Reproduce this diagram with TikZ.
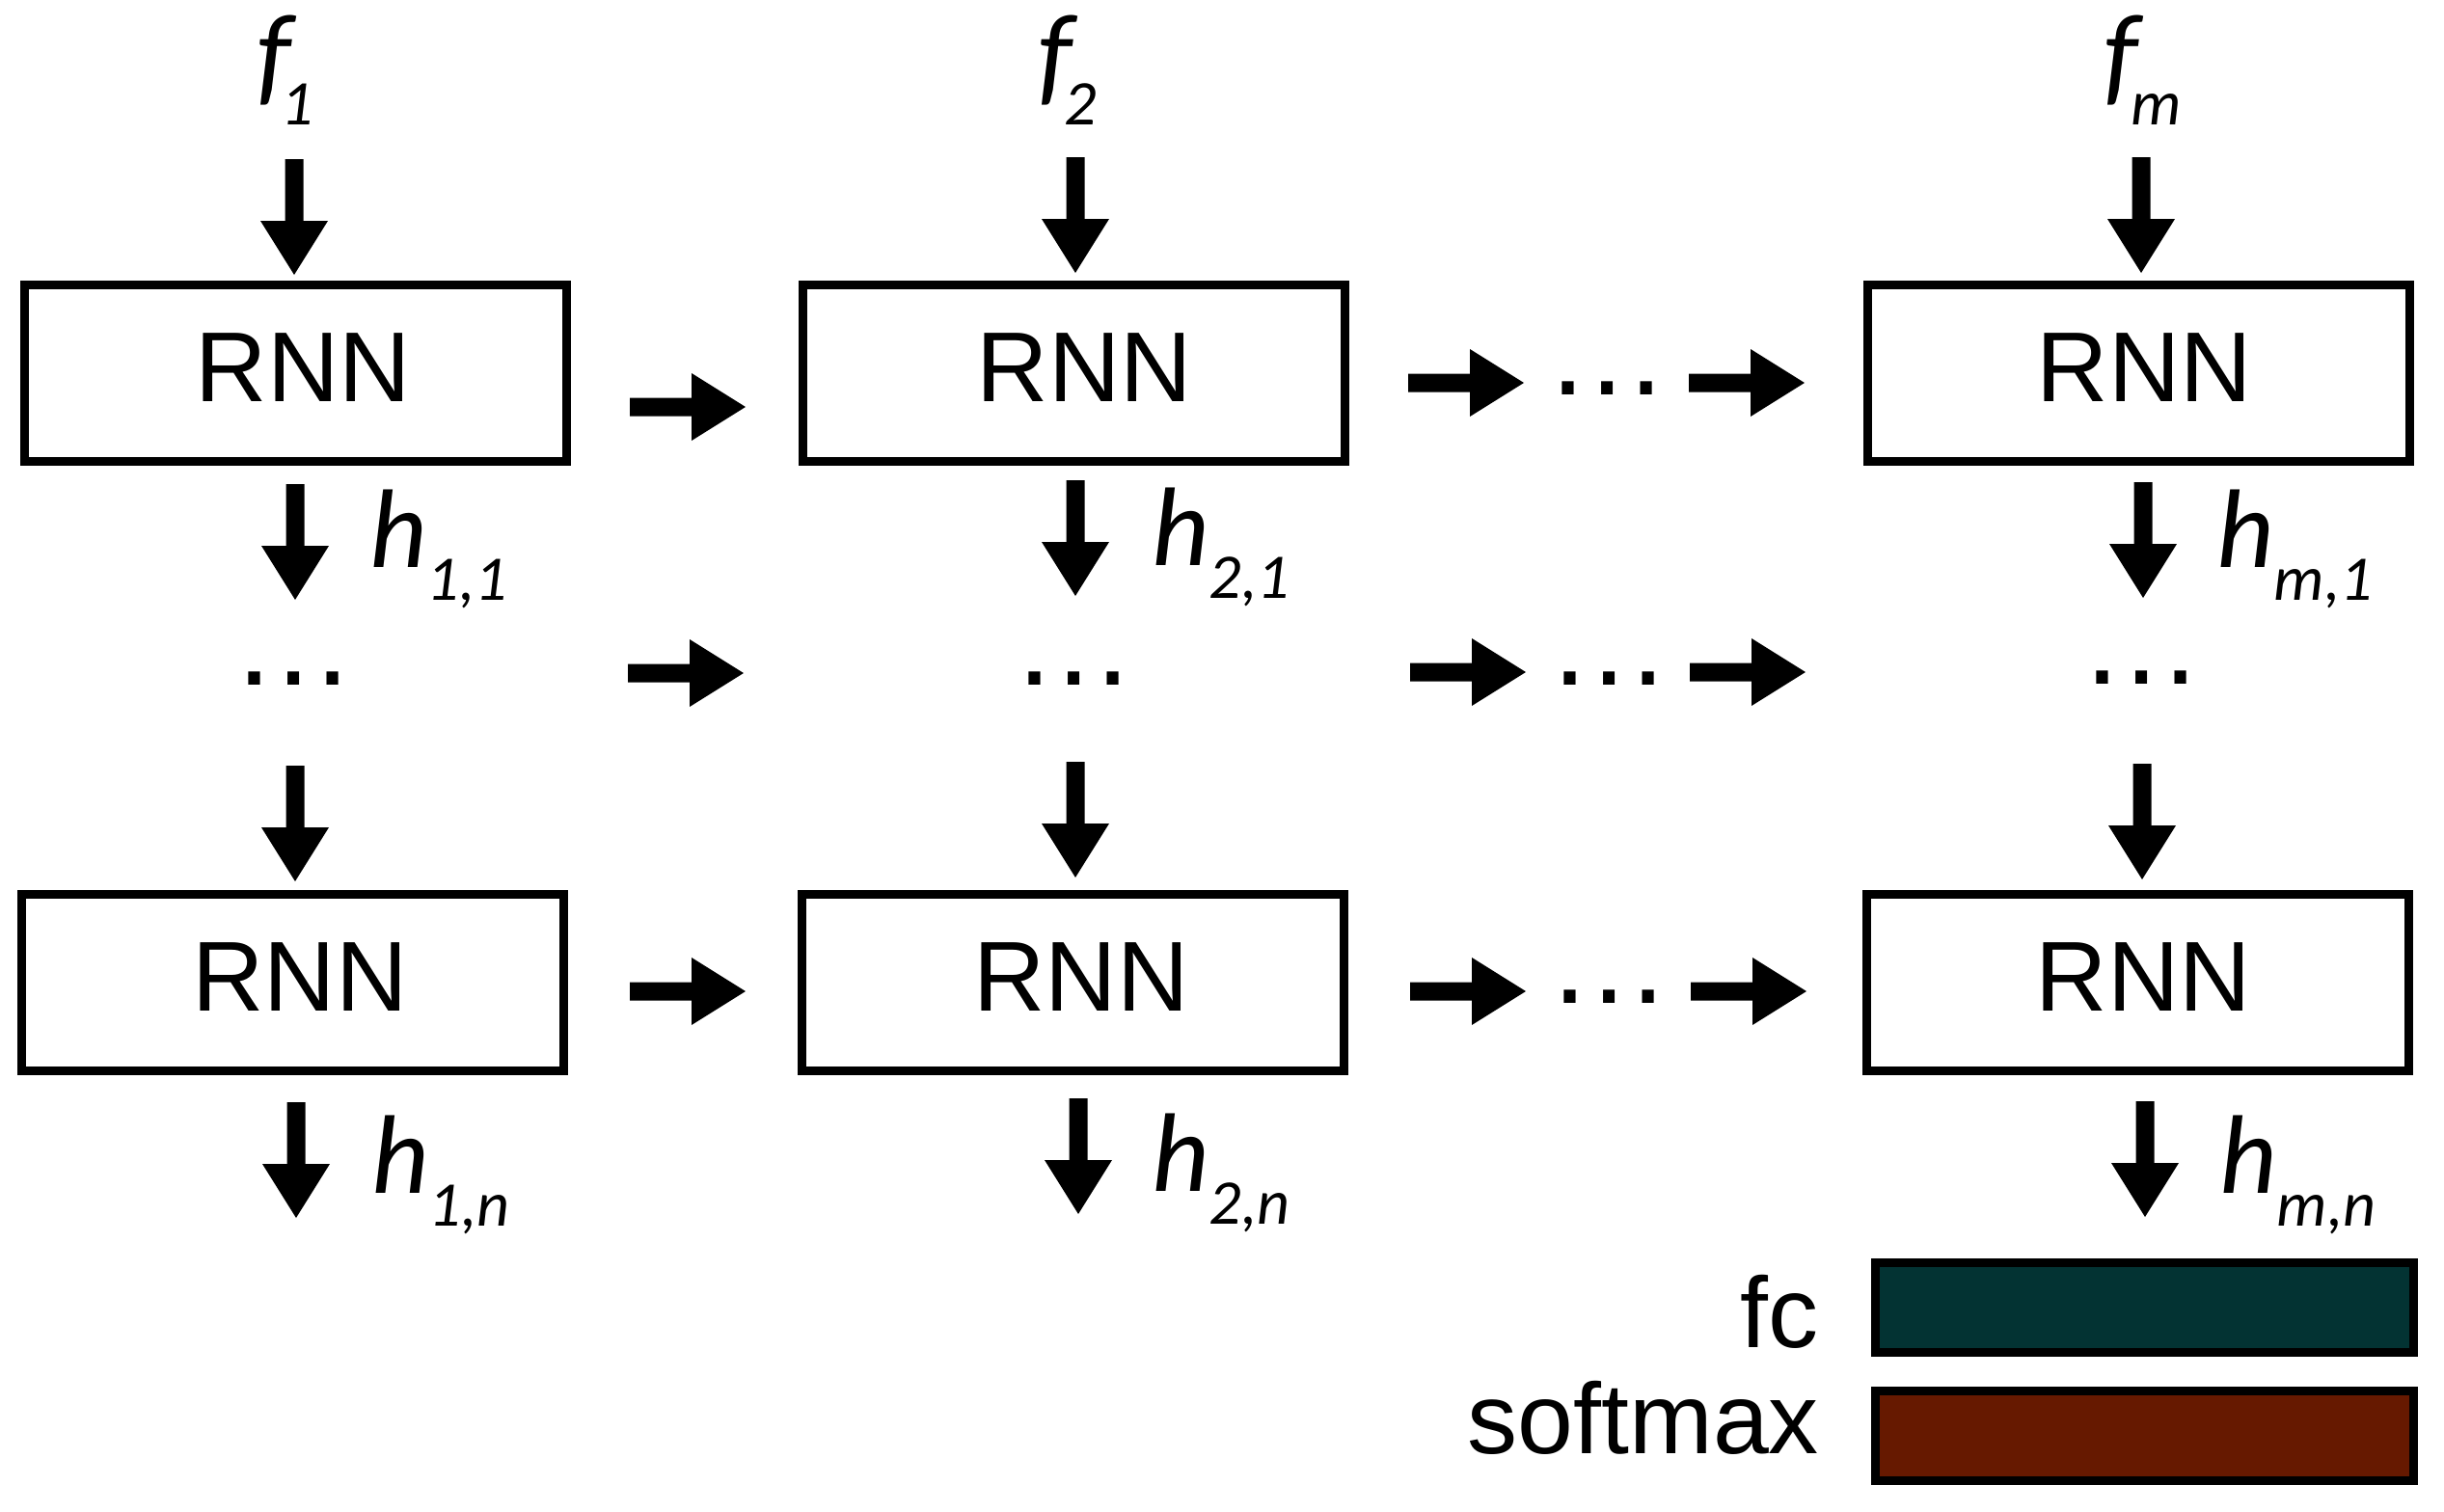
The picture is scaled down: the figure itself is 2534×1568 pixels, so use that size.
\documentclass[tikz,border=0pt]{standalone}
\usepackage{fontspec}
\setmainfont{Liberation Sans}
\newfontfamily\labfont{Carlito}
\definecolor{fccol}{RGB}{3,51,51}
\definecolor{smcol}{RGB}{102,25,0}
\newcommand{\lbl}[3][0pt]{{\labfont\itshape\fontsize{116}{116}\selectfont #2\kern#1\raisebox{-34pt}{\fontsize{66}{66}\selectfont #3}}}
\begin{document}
\begin{tikzpicture}[x=1pt,y=-1pt,
 rnnbox/.style={draw,line width=9pt,minimum width=562pt,minimum height=183pt,inner sep=0pt},
 rnntext/.style={inner sep=0pt,font=\fontsize{103}{103}\selectfont,text depth=11pt},
 bar/.style={draw,line width=9pt,minimum width=558pt,minimum height=93pt,inner sep=0pt},
 dots/.style={anchor=base,inner sep=0pt,font=\fontsize{128}{128}\selectfont},
 lab/.style={anchor=base west,inner sep=0pt},
 side/.style={anchor=base east,inner sep=0pt,font=\fontsize{104}{104}\selectfont},
 pics/barrow/.style={code={\fill (0,-9.5) -- (64,-9.5) -- (64,-35) -- (120,0) -- (64,35) -- (64,9.5) -- (0,9.5) -- cycle;}}
]
\useasboundingbox (0,0) rectangle (2534,1568);

% RNN boxes
\node[rnnbox] (r11) at (306.5,387) {};
\node[rnnbox] (r21) at (1113.5,387) {};
\node[rnnbox] (rm1) at (2217.5,387) {};
\node[rnnbox] (r1n) at (303,1019) {};
\node[rnnbox] (r2n) at (1112,1019) {};
\node[rnnbox] (rmn) at (2216.5,1019) {};
\node[rnntext] (t11) at ([xshift=8pt]r11.center) {RNN};
\node[rnntext] (t21) at ([xshift=11pt]r21.center) {RNN};
\node[rnntext] (tm1) at ([xshift=6pt]rm1.center) {RNN};
\node[rnntext] (t1n) at ([xshift=8pt]r1n.center) {RNN};
\node[rnntext] (t2n) at ([xshift=9pt]r2n.center) {RNN};
\node[rnntext] (tmn) at ([xshift=6pt]rmn.center) {RNN};

% output bars
\node[bar,fill=fccol] (fc) at (2223.5,1356) {};
\node[bar,fill=smcol] (sm) at (2223.5,1489) {};
\node[side] (fct) at (1886,1397) {fc};
\node[side] (smt) at (1886,1507) {softmax};

% input labels
\node[lab] (f1) at (266,96) {\lbl[-10pt]{f}{1}};
\node[lab] (f2) at (1076,96) {\lbl[-8pt]{f}{2}};
\node[lab] (fm) at (2181,96) {\lbl[-7pt]{f}{m}};

% hidden labels
\node[lab] (h11) at (383,588) {\lbl{h}{1,1}};
\node[lab] (h21) at (1194,586) {\lbl{h}{2,1}};
\node[lab] (hm1) at (2298,588) {\lbl{h}{m,1}};
\node[lab] (h1n) at (385,1237) {\lbl{h}{1,n}};
\node[lab] (h2n) at (1194,1235) {\lbl{h}{2,n}};
\node[lab] (hmn) at (2301,1237) {\lbl{h}{m,n}};

% ellipses
\node[dots] (d1) at (1666,409) {…};
\node[dots] (d2) at (304,710) {…};
\node[dots] (d3) at (1113,710) {…};
\node[dots] (d4) at (1668,710) {…};
\node[dots] (d5) at (2220,709) {…};
\node[dots] (d6) at (1668,1040) {…};

% vertical block arrows
\pic[rotate=-90] at (305,165) {barrow};
\pic[rotate=-90] at (1115,163) {barrow};
\pic[rotate=-90] at (2220,163) {barrow};
\pic[rotate=-90] at (306,502) {barrow};
\pic[rotate=-90] at (1115,498) {barrow};
\pic[rotate=-90] at (2222,500) {barrow};
\pic[rotate=-90] at (306,794) {barrow};
\pic[rotate=-90] at (1115,790) {barrow};
\pic[rotate=-90] at (2221,792) {barrow};
\pic[rotate=-90] at (307,1143) {barrow};
\pic[rotate=-90] at (1118,1139) {barrow};
\pic[rotate=-90] at (2224,1142) {barrow};

% horizontal block arrows
\pic at (653,422) {barrow};
\pic at (1460,397) {barrow};
\pic at (1751,397) {barrow};
\pic at (651,698) {barrow};
\pic at (1462,697) {barrow};
\pic at (1752,697) {barrow};
\pic at (653,1028) {barrow};
\pic at (1462,1028) {barrow};
\pic at (1753,1028) {barrow};
\end{tikzpicture}
\end{document}
